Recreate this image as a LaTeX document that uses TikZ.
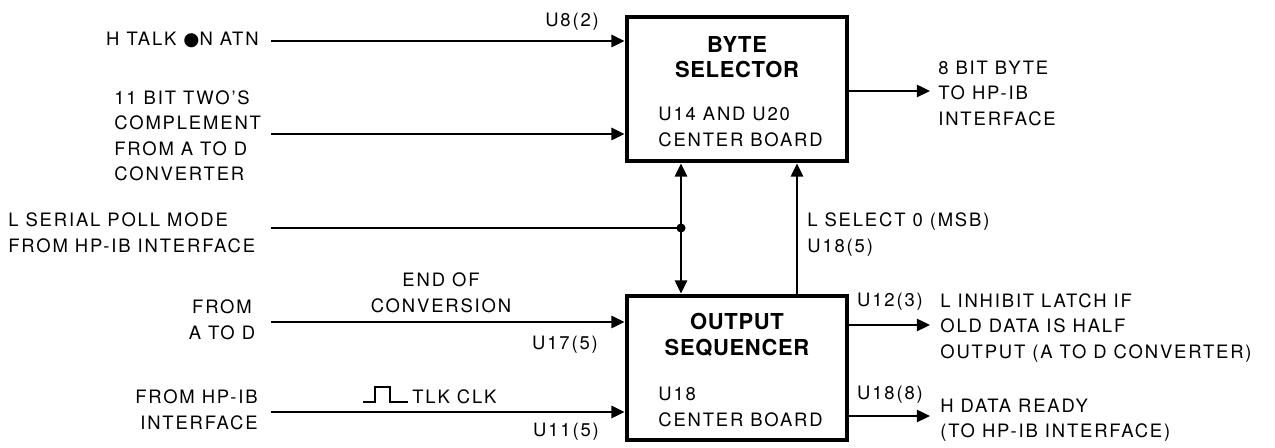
\documentclass[tikz,border=0pt]{standalone}
\usepackage{fontspec}
\setmainfont{TeX Gyre Heros}[LetterSpace=10]
\newfontfamily\titlefont{TeX Gyre Heros}[LetterSpace=3]
\newfontfamily\symfont{DejaVu Sans}
\usetikzlibrary{arrows.meta,positioning}

\begin{document}
\begin{tikzpicture}[x=0.02cm,y=-0.02cm,
	every node/.style={inner sep=0pt,font=\fontsize{10.5}{14.5}\selectfont},
	block/.style={draw,line width=2.8pt,minimum width=4.4cm,minimum height=2.88cm},
	blocktitle/.style={align=center,font=\titlefont\bfseries\fontsize{12.5}{14.5}\selectfont},
	sig/.style={line width=1.1pt,-{Triangle[length=7.5pt,width=7pt]}},
	wire/.style={line width=1.1pt}]
	
	\useasboundingbox (0,0) rectangle (1275,448);
	
	%--- the two blocks ---
	\node[block] (bsel) at (737,89) {};
	\node[block] (oseq) at (737,368) {};
	
	\node[blocktitle] (bseltitle) at (737,57) {BYTE\\SELECTOR};
	\node[align=left,anchor=west] (bselsub) at (658,127) {U14 AND U20\\CENTER BOARD};
	\node[blocktitle] (oseqtitle) at (737,335) {OUTPUT\\SEQUENCER};
	\node[align=left,anchor=west] (oseqsub) at (658,407) {U18\\CENTER BOARD};
	
	%--- inputs to byte selector ---
	\node[anchor=east] (talk) at (259,40) {H TALK {\symfont ●}N ATN};
	\coordinate (talkin) at (271,41);
	\draw[sig] (talkin) -- (talkin -| bsel.west);
	\node (talktag) at (572,22) {U8(2)};
	
	\node[align=left,anchor=west] (twos) at (114,136) {11 BIT TWO'S\\COMPLEMENT\\FROM A TO D\\CONVERTER};
	\coordinate (twosin) at (271,134);
	\draw[sig] (twosin) -- (twosin -| bsel.west);
	
	% serial poll line, split to both blocks
	\node[align=left,anchor=west] (serial) at (8,233) {L SERIAL POLL MODE\\FROM HP-IB INTERFACE};
	\coordinate (serialin) at (271,228);
	\coordinate (tap) at (681,228);
	\draw[wire] (serialin) -- (tap);
	\draw[sig] (tap) -- (tap |- bsel.south);
	\draw[sig] (tap) -- (tap |- oseq.north);
	\fill (tap) circle (2.6pt);
	
	% select line from sequencer back up
	\coordinate (selx) at (797,228);
	\draw[sig] (selx |- oseq.north) -- (selx |- bsel.south);
	\node[anchor=west] (selname) at (807,222) {L SELECT 0 (MSB)};
	\node[anchor=west] (seltag) at (807,248) {U18(5)};
	
	%--- byte selector output ---
	\coordinate (byteout) at (930,91);
	\draw[sig] (byteout -| bsel.east) -- (byteout);
	\node[align=left,anchor=west] (bytetext) at (938,93) {8 BIT BYTE\\TO HP-IB\\INTERFACE};
	
	%--- inputs to output sequencer ---
	\node[align=center] (fromad) at (222,320) {FROM\\A TO D};
	\coordinate (adin) at (271,322);
	\draw[sig] (adin) -- (adin -| oseq.west);
	\node[align=center] (eoc) at (441,293) {END OF\\CONVERSION};
	\node (adtag) at (565,345) {U17(5)};
	
	\node[align=right,anchor=east] (fromhpib) at (258,410) {FROM HP-IB\\INTERFACE};
	\coordinate (clkin) at (271,412);
	\draw[sig] (clkin) -- (clkin -| oseq.west);
	\draw[line width=1.3pt] (363,402) -| (375,387) -| (390,402) -- (408,402); % clock pulse
	\node[anchor=west] (clkname) at (412,397) {TLK CLK};
	\node (clktag) at (566,432) {U11(5)};
	
	%--- sequencer outputs ---
	\coordinate (inhout) at (930,325);
	\draw[sig] (inhout -| oseq.east) -- (inhout);
	\node (inhtag) at (890,302) {U12(3)};
	\node[align=left,anchor=west] (inhtext) at (940,328) {L INHIBIT LATCH IF\\OLD DATA IS HALF\\OUTPUT (A TO D CONVERTER)};
	
	\coordinate (rdyout) at (930,416);
	\draw[sig] (rdyout -| oseq.east) -- (rdyout);
	\node (rdytag) at (890,395) {U18(8)};
	\node[align=left,anchor=west] (rdytext) at (940,420) {H DATA READY\\(TO HP-IB INTERFACE)};
	
\end{tikzpicture}
\end{document}
